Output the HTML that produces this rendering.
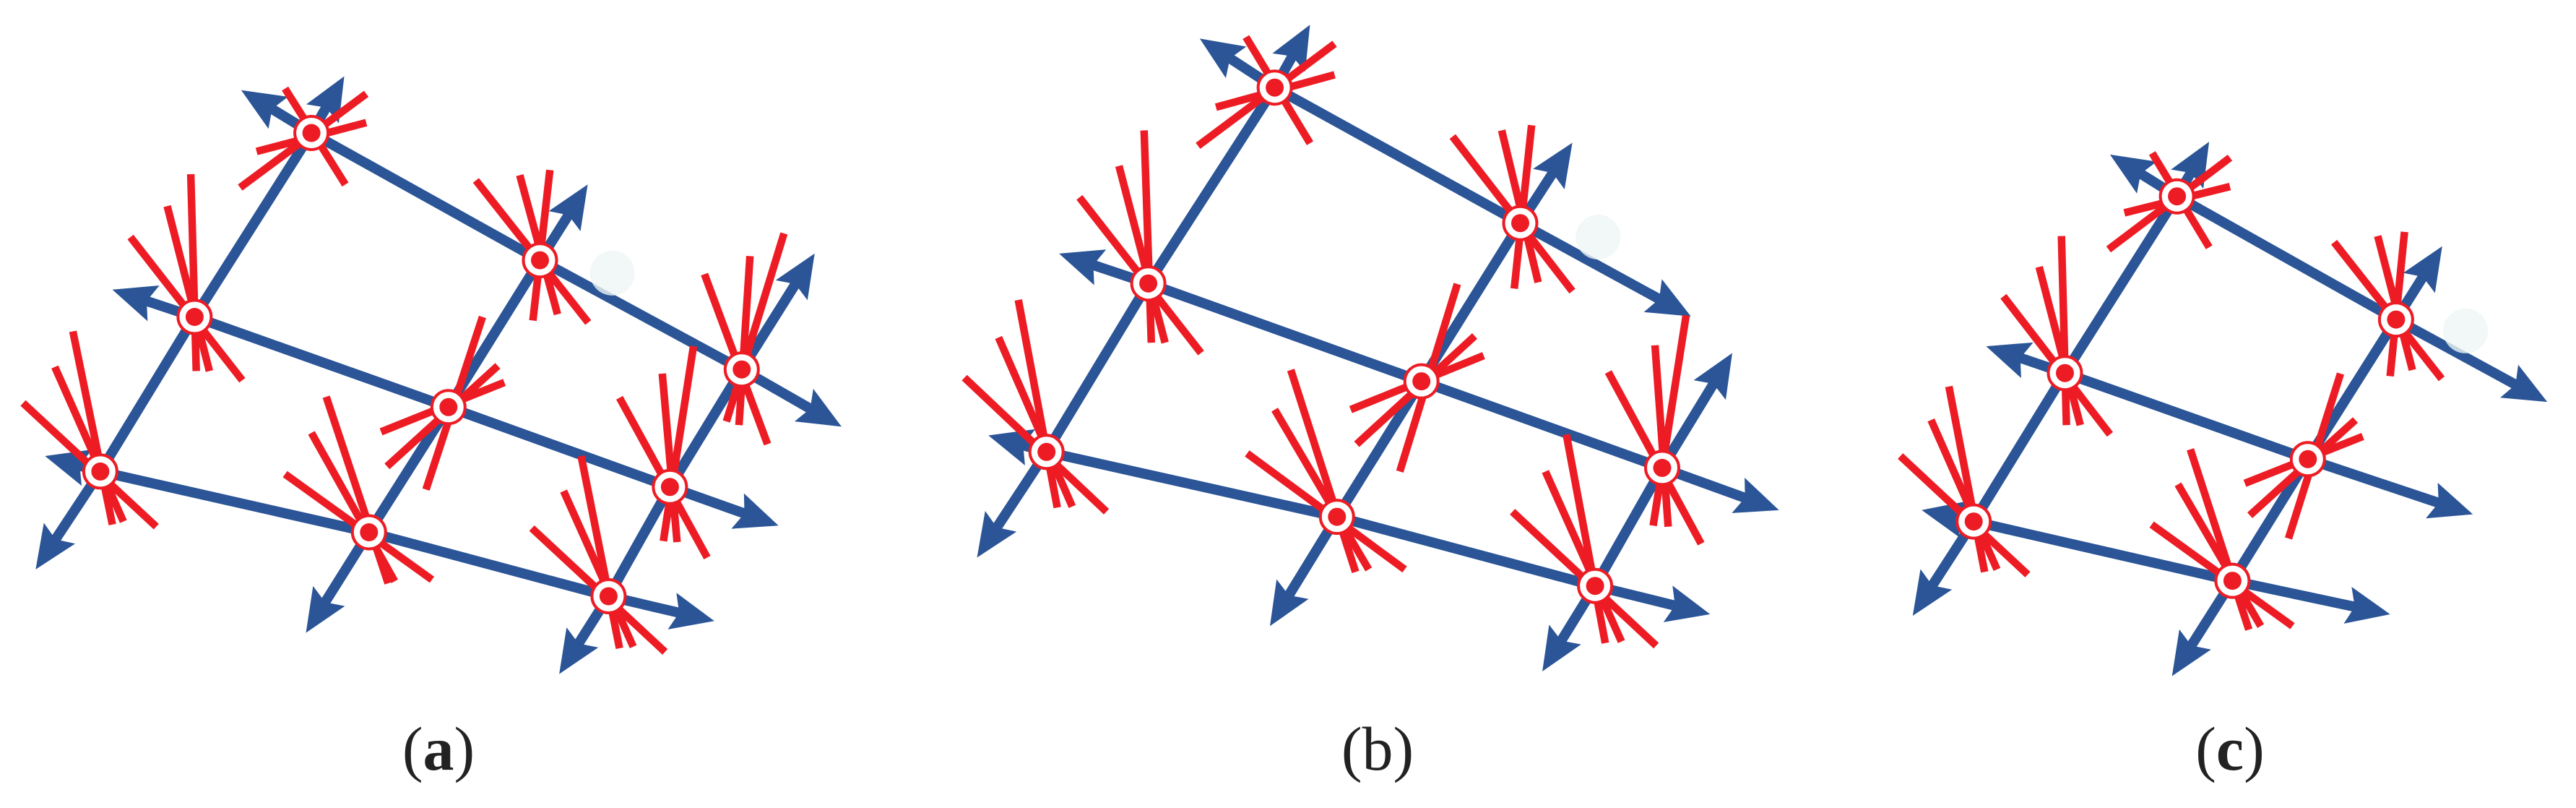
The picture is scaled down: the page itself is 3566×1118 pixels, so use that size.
<!DOCTYPE html>
<html><head><meta charset="utf-8"><style>
html,body{margin:0;padding:0;background:#fff;}
svg{display:block;}
</style></head><body>
<svg id="s" xmlns="http://www.w3.org/2000/svg" width="3566" height="1118" viewBox="0 0 3566 1118">
<defs>
<marker id="ah" markerUnits="userSpaceOnUse" markerWidth="90" markerHeight="70" viewBox="-40 -35 90 70" refX="0" refY="0" orient="auto-start-reverse">
<path d="M44,0 L-16,-26 L-6,0 L-16,26 Z" fill="#2b5597"/>
</marker>
</defs>
<g id="g"></g>
<text x="607" y="1065" font-family="Liberation Serif, serif" font-size="86" text-anchor="middle" fill="#222">(<tspan font-weight="bold">a</tspan>)</text>
<text x="1907" y="1065" font-family="Liberation Serif, serif" font-size="86" text-anchor="middle" fill="#222">(b)</text>
<text x="3087" y="1065" font-family="Liberation Serif, serif" font-size="86" text-anchor="middle" fill="#222">(<tspan font-weight="bold">c</tspan>)</text>
</svg>
<script>
var panels=[
{ox:0,sx:1568/1190,sy:1568/1118,
lines:[
[[440,175],[568,258],[985,505],[1353,717],[1535,828]],
[[205,562],[355,615],[818,790],[1222,945],[1420,1020]],
[[82,885],[183,915],[673,1033],[1110,1157],[1303,1205]],
[[628,148],[568,258],[355,615],[183,915],[65,1105]],
[[1072,358],[985,505],[818,790],[673,1033],[558,1228]],
[[1486,492],[1353,717],[1222,945],[1110,1157],[1020,1308]]],
spokes:[
[520,172,630,358],[668,182,438,364],[668,238,468,294],
[348,338,358,720],[305,400,382,720],[238,460,442,738],
[133,643,205,1018],[100,712,225,1012],[42,782,285,1022],
[868,350,1073,626],[948,340,1017,610],[1003,330,972,622],
[880,615,777,950],[908,710,706,905],[920,742,695,838],
[595,770,708,1132],[568,840,720,1128],[520,920,788,1125],
[1430,453,1325,818],[1368,497,1348,825],[1285,532,1400,862],
[1265,672,1210,1050],[1208,725,1235,1052],[1130,772,1290,1082],
[1060,885,1130,1258],[1028,953,1155,1255],[970,1025,1213,1265]],
nodes:[[568,258],[355,615],[183,915],[985,505],[818,790],[673,1033],[1353,717],[1222,945],[1110,1157]],
light:[1117,530]},
{ox:1190,sx:1568/1300,sy:1568/1118,
lines:[
[[568,75],[693,170],[1103,433],[1388,614]],
[[333,492],[482,550],[938,740],[1340,908],[1535,990]],
[[215,845],[312,877],[797,1003],[1228,1137],[1420,1192]],
[[752,48],[693,170],[482,550],[312,877],[196,1082]],
[[1190,277],[1103,433],[938,740],[797,1003],[685,1215]],
[[1457,685],[1340,908],[1228,1137],[1140,1303]]],
spokes:[
[645,72,752,278],[793,85,565,283],[793,145,595,208],
[475,253,487,665],[433,322,510,665],[367,383,570,685],
[265,582,330,985],[232,655,355,983],[175,733,412,993],
[990,265,1190,565],[1072,253,1133,548],[1122,243,1093,560],
[998,551,902,915],[1027,652,830,862],[1042,690,820,795],
[720,718,828,1110],[693,795,850,1105],[647,880,910,1105],
[1380,612,1325,1020],[1328,670,1350,1022],[1250,722,1405,1055],
[1180,843,1245,1248],[1145,915,1272,1245],[1090,993,1330,1253]],
nodes:[[693,170],[482,550],[312,877],[1103,433],[938,740],[797,1003],[1340,908],[1228,1137]],
light:[1233,460]},
{ox:2490,sx:1568/1076,sy:1568/1118,
lines:[
[[628,300],[763,381],[1205,620],[1510,780]],
[[378,672],[537,724],[1027,891],[1360,998]],
[[248,990],[353,1012],[875,1127],[1193,1192]],
[[828,275],[763,381],[537,724],[353,1012],[230,1195]],
[[1298,478],[1205,620],[1027,891],[875,1127],[753,1312]]],
spokes:[
[713,297,828,480],[870,306,625,484],[870,362,657,413],
[530,458,540,825],[485,518,568,825],[413,575,628,843],
[303,750,375,1110],[267,815,400,1105],[205,885,462,1115],
[1080,470,1297,735],[1168,458,1238,718],[1222,450,1193,730],
[1093,725,988,1045],[1123,815,910,1000],[1138,847,900,938],
[790,872,908,1222],[765,940,932,1215],[712,1018,996,1215]],
nodes:[[763,381],[537,724],[353,1012],[1205,620],[1027,891],[875,1127]],
light:[1345,642]}
];
var out='';
function shorten(a,b,d){var dx=a[0]-b[0],dy=a[1]-b[1],L=Math.sqrt(dx*dx+dy*dy);return [a[0]-dx/L*d,a[1]-dy/L*d];}
panels.forEach(function(p){
 function X(x){return p.ox+x/p.sx;}
 function Y(y){return y/p.sy;}
 p.lines.forEach(function(l){
  var pts=l.map(function(q){return [X(q[0]),Y(q[1])];});
  var n=pts.length;
  pts[0]=shorten(pts[0],pts[1],44);
  pts[n-1]=shorten(pts[n-1],pts[n-2],44);
  var s=pts.map(function(q){return q[0].toFixed(1)+','+q[1].toFixed(1);}).join(' ');
  out+='<polyline points="'+s+'" fill="none" stroke="#2b5597" stroke-width="14" stroke-linejoin="round" marker-start="url(#ah)" marker-end="url(#ah)"/>';
 });
 p.spokes.forEach(function(s){
  out+='<line x1="'+X(s[0]).toFixed(1)+'" y1="'+Y(s[1]).toFixed(1)+'" x2="'+X(s[2]).toFixed(1)+'" y2="'+Y(s[3]).toFixed(1)+'" stroke="#ed1c24" stroke-width="10.5"/>';
 });
 p.nodes.forEach(function(n){
  out+='<circle cx="'+X(n[0]).toFixed(1)+'" cy="'+Y(n[1]).toFixed(1)+'" r="23" fill="#fff" stroke="#ed1c24" stroke-width="4"/>';
  out+='<circle cx="'+X(n[0]).toFixed(1)+'" cy="'+Y(n[1]).toFixed(1)+'" r="12.5" fill="#ed1c24"/>';
 });
 out+='<circle cx="'+X(p.light[0]).toFixed(1)+'" cy="'+Y(p.light[1]).toFixed(1)+'" r="31" fill="#eef6f5" opacity="0.8"/>';
});
document.getElementById('g').innerHTML=out;
</script>
</body></html>
